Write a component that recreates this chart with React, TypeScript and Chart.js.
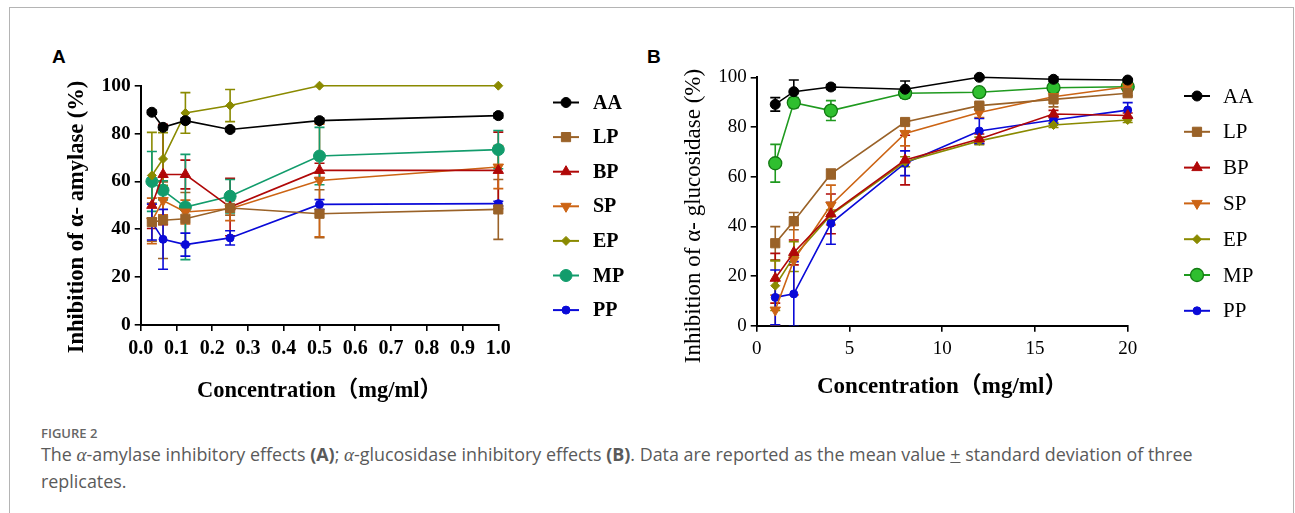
import React, { useEffect, useRef } from 'react';
import { Chart, registerables } from 'chart.js';
import { drawPoint } from 'chart.js/helpers';

Chart.register(...registerables);

// ---------- data ----------
const SERIES = ['AA', 'LP', 'BP', 'SP', 'EP', 'MP', 'PP'];

// Panel A: alpha-amylase
const X_A = [0.03125, 0.0625, 0.125, 0.25, 0.5, 1];
const AA_A = [88.9, 82.6, 85.4, 81.7, 85.4, 87.5];
const LP_A = [43.0, 43.8, 44.4, 48.9, 46.5, 48.3];
const BP_A = [50.0, 62.9, 62.9, 49.3, 64.6, 64.6];
const SP_A = [43.5, 52.0, 47.2, 48.6, 60.4, 66.0];
const EP_A = [62.5, 69.4, 88.6, 91.7, 100, 100];
const MP_A = [60.0, 56.3, 49.3, 53.8, 70.6, 73.3];
const PP_A = [43.0, 35.8, 33.6, 36.4, 50.4, 50.7];
const AA_A_ERR = [0.8, 1, 1, 0.8, 1, 1];
const LP_A_ERR = [8, 16, 11, 3, 10, 12.5];
const BP_A_ERR = [9.7, 21, 6, 12, 3, 16];
const SP_A_ERR = [9.5, 6, 5, 5, 23.5, 9];
const EP_A_ERR = [18, 11, 8.5, 6.7, 0, 0];
const MP_A_ERR = [12.5, 4, 22, 7, 12, 8];
const PP_A_ERR = [7.5, 12.5, 4.8, 3, 2, 1];

// Panel B: alpha-glucosidase
const X_B = [1, 2, 4, 8, 12, 16, 20];
const AA_B = [89.1, 94.2, 96.1, 95.2, 100, 99.2, 98.9];
const LP_B = [33.2, 42.1, 61.1, 82.0, 88.6, 91.1, 93.6];
const BP_B = [19.1, 29.5, 45.0, 66.7, 75.2, 85.2, 84.6];
const SP_B = [6.3, 26.4, 48.6, 77.4, 85.8, 92.2, 96.2];
const EP_B = [16.1, 27.8, 44.6, 66.0, 74.4, 80.8, 82.8];
const MP_B = [65.4, 89.8, 86.6, 93.6, 94.0, 95.8, 96.2];
const PP_B = [11.4, 12.8, 41.2, 65.4, 78.4, 82.8, 86.8];
const AA_B_ERR = [2.7, 4.7, 1, 3.3, 0.5, 1, 0.5];
const LP_B_ERR = [6.7, 3.5, 2, 1, 1, 3, 1];
const BP_B_ERR = [10, 5, 8, 10, 2, 1.5, 1];
const SP_B_ERR = [6, 14, 8, 5, 2, 1.5, 1];
const EP_B_ERR = [10, 6, 2, 2, 1.5, 1, 1];
const MP_B_ERR = [7.6, 2, 4, 2, 1, 1, 1];
const PP_B_ERR = [11, 13, 8.4, 5, 5, 1.5, 3];

const Y_TICKS = [0, 20, 40, 60, 80, 100];

// ---------- styles ----------
const COLORS_A = ['#000000', '#9a6228', '#b00808', '#cc6414', '#8a8a00', '#129c6c', '#0a0ad8'];
const COLORS_B = ['#000000', '#9a6228', '#b00808', '#cc6414', '#8a8a00', '#1f9a1f', '#0a0ad8'];
const STYLES = [
  { pointStyle: 'circle', radius: 5, rotation: 0 },
  { pointStyle: 'rect', radius: 6.5, rotation: 0 },
  { pointStyle: 'triangle', radius: 6, rotation: 0 },
  { pointStyle: 'triangle', radius: 6, rotation: 180 },
  { pointStyle: 'rectRot', radius: 4.5, rotation: 0 },
  { pointStyle: 'circle', radius: 6, rotation: 0 },
  { pointStyle: 'circle', radius: 4, rotation: 0 },
];

const SERIF = "'Liberation Serif', 'Times New Roman', 'Noto Sans CJK SC', serif";

// ---------- plugins ----------
const errorBarPlugin = {
  id: 'errorBars',
  beforeDatasetsDraw(chart: any) {
    const { ctx, chartArea } = chart;
    const ys = chart.scales.y;
    ctx.save();
    ctx.beginPath();
    ctx.rect(chartArea.left - 20, chartArea.top - 20, chartArea.width + 40, chartArea.height + 20);
    ctx.clip();
    chart.data.datasets.forEach((ds: any, i: number) => {
      const meta = chart.getDatasetMeta(i);
      const errs: number[] = ds.errors || [];
      ctx.strokeStyle = ds.borderColor;
      ctx.lineWidth = 1.6;
      meta.data.forEach((pt: any, j: number) => {
        const e = errs[j];
        if (!e) return;
        const v = ds.data[j].y;
        const yt = ys.getPixelForValue(v + e);
        const yb = ys.getPixelForValue(v - e);
        const x = pt.x;
        const cap = 5;
        ctx.beginPath();
        ctx.moveTo(x, yt);
        ctx.lineTo(x, yb);
        ctx.moveTo(x - cap, yt);
        ctx.lineTo(x + cap, yt);
        ctx.moveTo(x - cap, yb);
        ctx.lineTo(x + cap, yb);
        ctx.stroke();
      });
    });
    ctx.restore();
  },
};

const sideLegendPlugin = {
  id: 'sideLegend',
  afterDraw(chart: any, _args: any, opts: any) {
    const { ctx } = chart;
    chart.data.datasets.forEach((ds: any, i: number) => {
      const y = opts.y0 + i * opts.step;
      ctx.save();
      ctx.strokeStyle = ds.borderColor;
      ctx.lineWidth = 2;
      ctx.beginPath();
      ctx.moveTo(opts.x0, y);
      ctx.lineTo(opts.x0 + opts.len, y);
      ctx.stroke();
      ctx.fillStyle = ds.pointBackgroundColor;
      ctx.strokeStyle = ds.pointBorderColor;
      ctx.lineWidth = ds.pointBorderWidth;
      drawPoint(
        ctx,
        {
          pointStyle: ds.pointStyle,
          radius: ds.pointRadius,
          rotation: ds.pointRotation || 0,
          borderWidth: ds.pointBorderWidth,
        } as any,
        opts.x0 + opts.len / 2,
        y
      );
      ctx.fillStyle = '#000';
      ctx.font = opts.font;
      ctx.textAlign = 'left';
      ctx.textBaseline = 'middle';
      ctx.fillText(ds.label, opts.textX, y + 1);
      ctx.restore();
    });
  },
};

const yTitlePlugin = {
  id: 'yTitle',
  afterDraw(chart: any, _args: any, opts: any) {
    if (!opts || !opts.text) return;
    const { ctx } = chart;
    ctx.save();
    ctx.translate(opts.x, opts.y);
    ctx.rotate(-Math.PI / 2);
    ctx.font = opts.font;
    ctx.fillStyle = '#000';
    ctx.textAlign = 'center';
    ctx.textBaseline = 'middle';
    ctx.fillText(opts.text, 0, 0);
    ctx.restore();
  },
};

function buildDatasets(xs: number[], series: number[][], errs: number[][], colors: string[], mpB: boolean) {
  return SERIES.map((name, i) => {
    const c = colors[i];
    const st = STYLES[i];
    const isMPB = mpB && name === 'MP';
    return {
      label: name,
      data: xs.map((x, j) => ({ x, y: series[i][j] })),
      errors: errs[i],
      borderColor: c,
      borderWidth: 1.6,
      backgroundColor: c,
      pointBackgroundColor: isMPB ? '#2fbf2f' : c,
      pointBorderColor: isMPB ? '#137a13' : c,
      pointBorderWidth: isMPB ? 1.3 : 1,
      pointStyle: st.pointStyle,
      pointRadius: isMPB ? 6.5 : st.radius,
      pointRotation: st.rotation,
      pointHoverRadius: st.radius,
      tension: 0,
      fill: false,
      clip: 20,
    };
  });
}

interface PanelCfg {
  xs: number[];
  series: number[][];
  errs: number[][];
  colors: string[];
  mpB: boolean;
  xMax: number;
  xStep: number;
  xDecimals: number;
  width: number;
  height: number;
  padTop: number;
  padRight: number;
  yWidth: number;
  xHeight: number;
  tickFontX: any;
  tickFontY: any;
  xTitleFont: any;
  xTitlePadBottom: number;
  yTitle: any;
  legend: any;
}

function Panel({ cfg, style }: { cfg: PanelCfg; style: React.CSSProperties }) {
  const ref = useRef<HTMLCanvasElement | null>(null);
  useEffect(() => {
    if (!ref.current) return;
    const chart = new Chart(ref.current, {
      type: 'line',
      data: { datasets: buildDatasets(cfg.xs, cfg.series, cfg.errs, cfg.colors, cfg.mpB) as any },
      plugins: [errorBarPlugin, sideLegendPlugin, yTitlePlugin] as any,
      options: {
        responsive: false,
        animation: false,
        devicePixelRatio: 1,
        layout: { padding: { top: cfg.padTop, right: cfg.padRight, left: 0, bottom: 0 } },
        plugins: {
          legend: { display: false },
          tooltip: { enabled: false },
          sideLegend: cfg.legend,
          yTitle: cfg.yTitle,
        } as any,
        scales: {
          x: {
            type: 'linear',
            min: 0,
            max: cfg.xMax,
            ticks: {
              stepSize: cfg.xStep,
              color: '#000',
              font: cfg.tickFontX,
              padding: 6,
              maxRotation: 0,
              autoSkip: false,
              callback: (v: any) => Number(v).toFixed(cfg.xDecimals),
            },
            grid: {
              display: true,
              drawOnChartArea: false,
              drawTicks: true,
              tickLength: 6,
              color: '#000',
              lineWidth: 1.6,
            },
            border: { display: true, color: '#000', width: 2 },
            title: {
              display: true,
              text: 'Concentration（mg/ml）',
              color: '#000',
              font: cfg.xTitleFont,
              padding: { top: 0, bottom: cfg.xTitlePadBottom },
            },
            afterFit: (s: any) => {
              s.height = cfg.xHeight;
            },
          },
          y: {
            type: 'linear',
            min: 0,
            max: 100,
            afterBuildTicks: (s: any) => {
              s.ticks = Y_TICKS.map((v) => ({ value: v }));
            },
            ticks: {
              color: '#000',
              font: cfg.tickFontY,
              padding: 4,
              callback: (v: any) => String(v),
            },
            grid: {
              display: true,
              drawOnChartArea: false,
              drawTicks: true,
              tickLength: 6,
              color: '#000',
              lineWidth: 1.6,
            },
            border: { display: true, color: '#000', width: 2 },
            afterFit: (s: any) => {
              s.width = cfg.yWidth;
            },
          },
        },
      } as any,
    });
    return () => chart.destroy();
  }, []);
  return <canvas ref={ref} width={cfg.width} height={cfg.height} style={{ position: 'absolute', width: cfg.width, height: cfg.height, ...style }} />;
}

const CFG_A: PanelCfg = {
  xs: X_A,
  series: [AA_A, LP_A, BP_A, SP_A, EP_A, MP_A, PP_A],
  errs: [AA_A_ERR, LP_A_ERR, BP_A_ERR, SP_A_ERR, EP_A_ERR, MP_A_ERR, PP_A_ERR],
  colors: COLORS_A,
  mpB: false,
  xMax: 1,
  xStep: 0.1,
  xDecimals: 1,
  width: 600,
  height: 340,
  padTop: 15,
  padRight: 141.7,
  yWidth: 100.7,
  xHeight: 85,
  tickFontX: { family: SERIF, size: 20, weight: 'bold' },
  tickFontY: { family: SERIF, size: 19.5, weight: 'bold' },
  xTitleFont: { family: SERIF, size: 22.5, weight: 'bold' },
  xTitlePadBottom: 5.5,
  yTitle: { text: 'Inhibition of α- amylase (%)', x: 37.5, y: 147, font: `bold 22.5px ${SERIF}` },
  legend: { x0: 513, y0: 32.5, step: 34.6, len: 26, textX: 553, font: `bold 20px ${SERIF}` },
};

const CFG_B: PanelCfg = {
  xs: X_B,
  series: [AA_B, LP_B, BP_B, SP_B, EP_B, MP_B, PP_B],
  errs: [AA_B_ERR, LP_B_ERR, BP_B_ERR, SP_B_ERR, EP_B_ERR, MP_B_ERR, PP_B_ERR],
  colors: COLORS_B,
  mpB: true,
  xMax: 20,
  xStep: 5,
  xDecimals: 0,
  width: 655,
  height: 350,
  padTop: 17.3,
  padRight: 167.3,
  yWidth: 116.7,
  xHeight: 84.3,
  tickFontX: { family: SERIF, size: 19, weight: 'normal' },
  tickFontY: { family: SERIF, size: 19, weight: 'normal' },
  xTitleFont: { family: SERIF, size: 23, weight: 'bold' },
  xTitlePadBottom: 9.5,
  yTitle: { text: 'Inhibition of α- glucosidase (%)', x: 54, y: 156, font: `23px ${SERIF}` },
  legend: { x0: 544, y0: 36, step: 35.8, len: 26, textX: 583, font: `21px ${SERIF}` },
};

export default function App() {
  const captionFont = "'Open Sans', 'Noto Sans', sans-serif";
  return (
    <div style={{ position: 'absolute', left: 0, top: 0, width: 1295, height: 513, background: '#fff', overflow: 'hidden' }}>
      <div
        style={{
          position: 'absolute',
          left: 9,
          top: 7,
          width: 1283,
          height: 530,
          borderLeft: '1.5px solid #b4b4b4',
          borderTop: '1.5px solid #b4b4b4',
          borderRight: '1.5px solid #b4b4b4',
        }}
      />
      <div style={{ position: 'absolute', left: 52, top: 46, font: "bold 19px 'Liberation Sans', Arial, sans-serif", color: '#000' }}>A</div>
      <div style={{ position: 'absolute', left: 647, top: 46, font: "bold 19px 'Liberation Sans', Arial, sans-serif", color: '#000' }}>B</div>
      <Panel cfg={CFG_A} style={{ left: 40, top: 70 }} />
      <Panel cfg={CFG_B} style={{ left: 640, top: 60 }} />
      <div style={{ position: 'absolute', left: 41, top: 424, fontFamily: captionFont, fontSize: 13, fontWeight: 600, color: '#666', letterSpacing: 0 }}>
        FIGURE 2
      </div>
      <div style={{ position: 'absolute', left: 41, top: 441, width: 1240, fontFamily: captionFont, fontSize: 17.9, lineHeight: '26px', color: '#5a5a5a' }}>
        The <i style={{ fontFamily: SERIF, fontSize: 19 }}>α</i>-amylase inhibitory effects <b>(A)</b>; <i style={{ fontFamily: SERIF, fontSize: 19 }}>α</i>-glucosidase inhibitory effects <b>(B)</b>. Data are reported as the mean value <span style={{ textDecoration: 'underline' }}>+</span> standard deviation of three
        <br />
        replicates.
      </div>
    </div>
  );
}
